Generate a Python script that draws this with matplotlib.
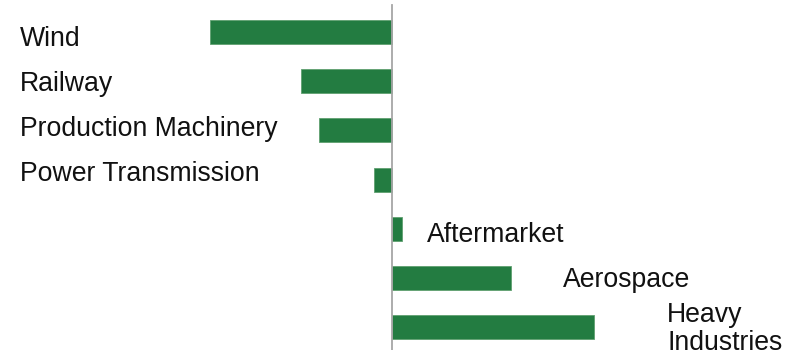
import matplotlib
matplotlib.use("Agg")
import matplotlib.pyplot as plt

# segment change
segments = ["Wind", "Railway", "Production Machinery", "Power Transmission",
            "Aftermarket", "Aerospace", "Heavy\nIndustries"]
values = [-18.2, -9.1, -7.3, -1.8, 1.0, 11.9, 20.2]

# label placement in pixels (x, baseline y of last line)
label_px = [(20, 46), (20, 91), (20, 136), (20, 181),
            (427, 242), (563, 287), (667, 350)]

W, H = 798, 350
plt.rcParams["font.family"] = ["Liberation Sans", "DejaVu Sans"]

fig = plt.figure(figsize=(W / 100, H / 100), dpi=100)
ax = fig.add_axes([0, 0, 1, 1])

# 10 px per unit, zero at x=392
ax.set_xlim(-39.2, 40.6)
pitch = 49.2
ax.set_ylim((H - 32) / pitch, -32 / pitch)

ypos = list(range(len(values)))
ax.barh(ypos, values, height=24 / pitch, color="#237c41",
        edgecolor="#5fa070", linewidth=0.6)
ax.axvline(0, ymin=0, ymax=1 - 5 / H, color="#a6a6a6", lw=1.3)

for name, (px, py) in zip(segments, label_px):
    fig.text(px / W, 1 - py / H, name, fontsize=19.2, color="#111111",
             va="baseline", ha="left", linespacing=1.1)

ax.axis("off")
fig.savefig("out.png", dpi=100)
